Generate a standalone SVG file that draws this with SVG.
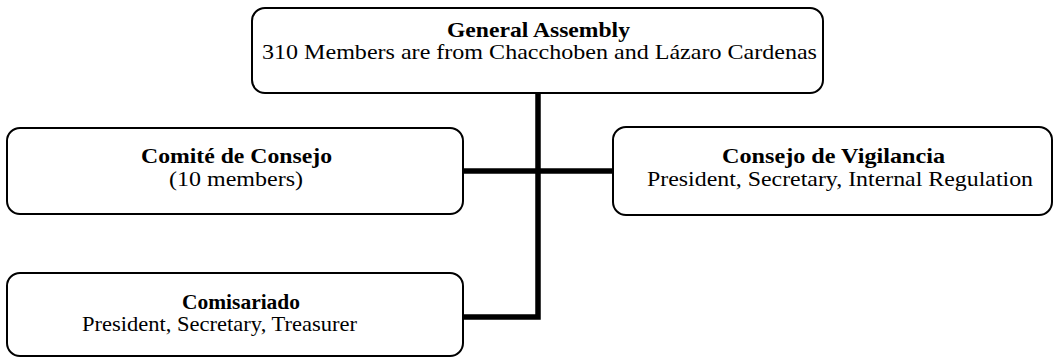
<svg xmlns="http://www.w3.org/2000/svg" width="1057" height="358" viewBox="0 0 1057 358">
<style>
.box{fill:#fff;stroke:#000;stroke-width:2}
.t{font-family:"Liberation Serif","Times New Roman",serif;font-size:21px;fill:#000}
.b{font-weight:bold}
.c{stroke:#000;stroke-width:5.5;fill:none;stroke-linecap:square}
</style>
<g id="connectors">
<path class="c" d="M538 94 V317 H464"/>
<path class="c" d="M464 171 H612"/>
</g>
<g id="general-assembly">
<rect class="box" x="252" y="8" width="571" height="85" rx="13"/>
<text class="t b" x="447" y="37" textLength="183" lengthAdjust="spacingAndGlyphs">General Assembly</text>
<text class="t" x="262" y="59" textLength="555" lengthAdjust="spacingAndGlyphs">310 Members are from Chacchoben and Lázaro Cardenas</text>
</g>
<g id="comite-de-consejo">
<rect class="box" x="7" y="128" width="456" height="86" rx="13"/>
<text class="t b" x="141" y="163" textLength="191" lengthAdjust="spacingAndGlyphs">Comité de Consejo</text>
<text class="t" x="169" y="186" textLength="134" lengthAdjust="spacingAndGlyphs">(10 members)</text>
</g>
<g id="consejo-de-vigilancia">
<rect class="box" x="613" y="127" width="439" height="88" rx="13"/>
<text class="t b" x="722" y="163" textLength="223" lengthAdjust="spacingAndGlyphs">Consejo de Vigilancia</text>
<text class="t" x="647" y="186" textLength="386" lengthAdjust="spacingAndGlyphs">President, Secretary, Internal Regulation</text>
</g>
<g id="comisariado">
<rect class="box" x="7" y="273" width="456" height="83" rx="13"/>
<text class="t b" x="182" y="309" textLength="118" lengthAdjust="spacingAndGlyphs">Comisariado</text>
<text class="t" x="82" y="331" textLength="275" lengthAdjust="spacingAndGlyphs">President, Secretary, Treasurer</text>
</g>
</svg>
